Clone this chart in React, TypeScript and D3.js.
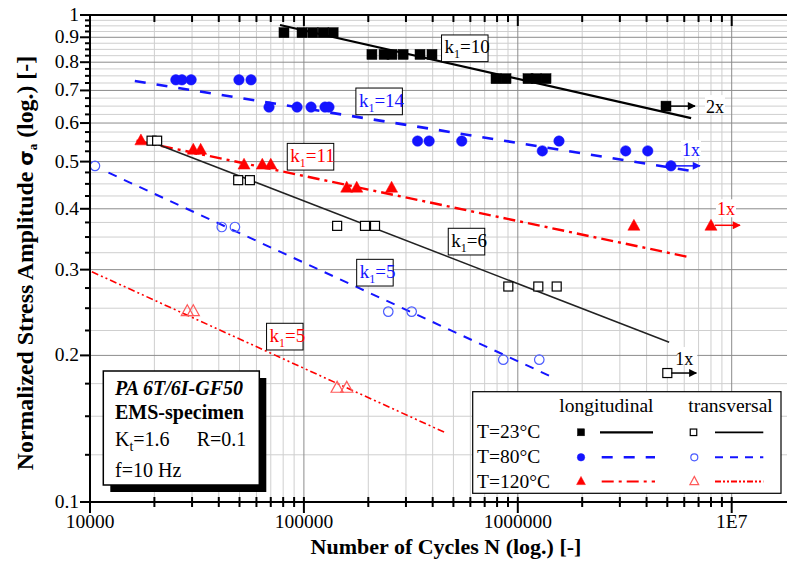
import React from "react";
import * as d3 from "d3";

// ---------- data ----------
const xTickValues = [1e4, 1e5, 1e6, 1e7];
const xTickLabels = ["10000", "100000", "1000000", "1E7"];
const yTickValues = [0.1, 0.2, 0.3, 0.4, 0.5, 0.6, 0.7, 0.8, 0.9, 1];
const yTickLabels = ["0.1", "0.2", "0.3", "0.4", "0.5", "0.6", "0.7", "0.8", "0.9", "1"];

// longitudinal, T=23°C (filled squares)
const long23N = [80700, 98000, 110000, 123000, 137000, 208000, 237000, 258000, 291000, 349000, 397000, 791000, 881000, 1116000, 1217000, 1355000, 4930000];
const long23S = [0.92, 0.92, 0.92, 0.92, 0.92, 0.83, 0.83, 0.83, 0.83, 0.83, 0.83, 0.74, 0.74, 0.74, 0.74, 0.74, 0.65];
// longitudinal, T=80°C (filled circles)
const long80N = [25200, 26900, 29700, 49700, 56600, 68700, 92900, 108000, 125500, 131000, 340000, 385000, 547000, 1302000, 1558000, 3195000, 4050000, 5200000];
const long80S = [0.736, 0.736, 0.736, 0.736, 0.736, 0.647, 0.647, 0.647, 0.647, 0.647, 0.551, 0.551, 0.551, 0.526, 0.551, 0.526, 0.526, 0.49];
// longitudinal, T=120°C (filled triangles)
const long120N = [17300, 30400, 32900, 52500, 63900, 70000, 158600, 176600, 257000, 3490000, 8000000];
const long120S = [0.554, 0.53, 0.53, 0.494, 0.494, 0.494, 0.443, 0.443, 0.443, 0.37, 0.37];
// transversal, T=23°C (open squares)
const trans23N = [19400, 20600, 49300, 55900, 143000, 193000, 215000, 903000, 1247000, 1520000, 5000000];
const trans23S = [0.552, 0.552, 0.458, 0.458, 0.369, 0.369, 0.369, 0.277, 0.277, 0.277, 0.184];
// transversal, T=80°C (open circles)
const trans80N = [10550, 41300, 47600, 248000, 319000, 855000, 1260000];
const trans80S = [0.49, 0.367, 0.367, 0.246, 0.246, 0.196, 0.196];
// transversal, T=120°C (open triangles)
const trans120N = [28500, 30400, 143000, 158600];
const trans120S = [0.247, 0.247, 0.172, 0.172];

// fitted S-N lines (start / end)
const long23LineN = [77300, 6460000];
const long23LineS = [0.954, 0.614];
const long80LineN = [16200, 6730000];
const long80LineS = [0.732, 0.477];
const long120LineN = [16500, 6380000];
const long120LineS = [0.552, 0.318];
const trans23LineN = [18700, 5100000];
const trans23LineS = [0.552, 0.2128];
const trans80LineN = [12200, 1490000];
const trans80LineS = [0.4745, 0.1795];
const trans120LineN = [10200, 465000];
const trans120LineS = [0.297, 0.1384];

// run-outs
const runoutN = [4930000, 5200000, 8000000, 5000000];
const runoutS = [0.65, 0.49, 0.37, 0.184];
const runoutLabels = ["2x", "1x", "1x", "1x"];

// slope labels
const slopeLabelText = ["10", "14", "11", "6", "5", "5"];
const slopeLabelN = [440000, 175000, 83600, 473000, 176500, 66900];
const slopeLabelS = [0.91, 0.708, 0.545, 0.3648, 0.315, 0.2328];

// ---------- layout ----------
const W = 787;
const H = 567;
const X0 = 90;
const XR = 787;
const Y0 = 502;
const YT = 15;

const BLUE = "#1414ff";
const RED = "#ff0000";
const LRED = "#ff5a5a";
const LBLUE = "#4b5cff";
const FONT = "'Liberation Serif', 'Times New Roman', serif";

const x = d3.scaleLog().domain([1e4, 1e7]).range([X0, 731.7]);
const y = d3.scaleLog().domain([0.1, 1]).range([Y0, YT]);

const xMinor: number[] = [];
for (let e = 4; e <= 7; e++) for (let m = 2; m <= 9; m++) xMinor.push(m * Math.pow(10, e));
const yMinor: number[] = [];
for (let i = 0; i <= 36; i++) {
  const v = +(0.1 + i * 0.025).toFixed(3);
  if (Math.abs(v * 10 - Math.round(v * 10)) > 1e-6) yMinor.push(v);
}

const zip = (a: number[], b: number[]) => a.map((v, i) => [v, b[i]] as [number, number]);
const line = d3.line<[number, number]>().x((d) => x(d[0])).y((d) => y(d[1]));

type Kind = "sq" | "circ" | "tri";
function Marker({ kind, cx, cy, size, fill, stroke, sw }: { kind: Kind; cx: number; cy: number; size: number; fill: string; stroke: string; sw: number }) {
  if (kind === "sq") return <rect x={cx - size / 2} y={cy - size / 2} width={size} height={size} fill={fill} stroke={stroke} strokeWidth={sw} />;
  if (kind === "circ") return <circle cx={cx} cy={cy} r={size / 2} fill={fill} stroke={stroke} strokeWidth={sw} />;
  const h = size * 0.9;
  const w = size * 1.1;
  return <path d={`M${cx},${cy - h / 2 - 1}L${cx + w / 2},${cy + h / 2}L${cx - w / 2},${cy + h / 2}Z`} fill={fill} stroke={stroke} strokeWidth={sw} strokeLinejoin="miter" />;
}

function Series({ N, S, kind, size, fill, stroke, sw }: { N: number[]; S: number[]; kind: Kind; size: number; fill: string; stroke: string; sw: number }) {
  return (
    <g>
      {zip(N, S).map((d, i) => (
        <Marker key={i} kind={kind} cx={x(d[0])} cy={y(d[1])} size={size} fill={fill} stroke={stroke} sw={sw} />
      ))}
    </g>
  );
}

function SlopeLabel({ n, s, text, color }: { n: number; s: number; text: string; color: string }) {
  const bx = x(n);
  const by = y(s);
  const w = text.length === 2 ? 46.5 : 36.5;
  return (
    <g>
      <rect x={bx} y={by} width={w} height={26.7} fill="white" stroke="black" strokeWidth={1} />
      <text x={bx + 3} y={by + 18.5} fill={color} fontSize={19} fontFamily={FONT}>
        k<tspan fontSize={12} dy={5}>1</tspan>
        <tspan dy={-5}>={text}</tspan>
      </text>
    </g>
  );
}

const runColors = ["black", BLUE, RED, "black"];

export default function App() {
  return (
    <div style={{ position: "absolute", left: 0, top: 0 }}>
      <svg width={W} height={H} style={{ display: "block", background: "white" }} fontFamily={FONT}>
        <defs>
          <clipPath id="plot">
            <rect x={X0} y={YT} width={XR - X0} height={Y0 - YT} />
          </clipPath>
          {runColors.map((c, i) => (
            <marker key={i} id={`arr${i}`} viewBox="0 0 10 10" refX={9} refY={5} markerWidth={12} markerHeight={8} markerUnits="userSpaceOnUse" orient="auto">
              <path d="M0,0L10,5L0,10Z" fill={c} />
            </marker>
          ))}
        </defs>

        {/* grid */}
        <g clipPath="url(#plot)">
          {xMinor.map((v, i) => (
            <line key={"xm" + i} x1={x(v)} x2={x(v)} y1={YT} y2={Y0} stroke="#cfcfcf" strokeWidth={1} />
          ))}
          {yMinor.map((v, i) => (
            <line key={"ym" + i} x1={X0} x2={XR} y1={y(v)} y2={y(v)} stroke="#cfcfcf" strokeWidth={1} />
          ))}
          {xTickValues.map((v, i) => (
            <line key={"xM" + i} x1={x(v)} x2={x(v)} y1={YT} y2={Y0} stroke="#8c8c8c" strokeWidth={1} />
          ))}
          {yTickValues.map((v, i) => (
            <line key={"yM" + i} x1={X0} x2={XR} y1={y(v)} y2={y(v)} stroke="#8c8c8c" strokeWidth={1} />
          ))}
        </g>

        {/* fit lines */}
        <g fill="none" clipPath="url(#plot)">
          <path d={line(zip(long23LineN, long23LineS)) || ""} stroke="black" strokeWidth={2.2} />
          <path d={line(zip(long80LineN, long80LineS)) || ""} stroke={BLUE} strokeWidth={2.6} strokeDasharray="11 11" />
          <path d={line(zip(long120LineN, long120LineS)) || ""} stroke={RED} strokeWidth={2.4} strokeDasharray="12 5 3 5" />
          <path d={line(zip(trans23LineN, trans23LineS)) || ""} stroke="#222" strokeWidth={1.5} />
          <path d={line(zip(trans80LineN, trans80LineS)) || ""} stroke={BLUE} strokeWidth={2} strokeDasharray="9 8" />
          <path d={line(zip(trans120LineN, trans120LineS)) || ""} stroke={RED} strokeWidth={1.6} strokeDasharray="7 3 2 3 2 3" />
        </g>

        {/* markers */}
        <Series N={long23N} S={long23S} kind="sq" size={10} fill="black" stroke="black" sw={0.5} />
        <Series N={long80N} S={long80S} kind="circ" size={10.5} fill={BLUE} stroke={BLUE} sw={0.5} />
        <Series N={long120N} S={long120S} kind="tri" size={11} fill={RED} stroke={RED} sw={0.5} />
        <Series N={trans23N} S={trans23S} kind="sq" size={9} fill="white" stroke="black" sw={1.2} />
        <Series N={trans80N} S={trans80S} kind="circ" size={9.5} fill="none" stroke={LBLUE} sw={1.2} />
        <Series N={trans120N} S={trans120S} kind="tri" size={11} fill="none" stroke={LRED} sw={1.2} />

        {/* run-out arrows */}
        {zip(runoutN, runoutS).map((d, i) => {
          const px = x(d[0]);
          const py = y(d[1]);
          return (
            <g key={"ro" + i}>
              <line x1={px + 4} y1={py} x2={px + 29} y2={py} stroke={runColors[i]} strokeWidth={1.5} markerEnd={`url(#arr${i})`} />
              <rect x={px + (i === 0 ? 39 : i === 2 ? 5 : 10)} y={py - (i === 0 ? 11 : 26)} width={20} height={18} fill="white" />
              <text x={px + (i === 0 ? 40 : i === 2 ? 6 : i === 3 ? 8 : 11)} y={py + (i === 0 ? 7 : i === 3 ? -8 : -10)} fontSize={18} fill={runColors[i]}>
                {runoutLabels[i]}
              </text>
            </g>
          );
        })}

        {/* slope labels */}
        {slopeLabelText.map((t, i) => (
          <SlopeLabel key={"sl" + i} n={slopeLabelN[i]} s={slopeLabelS[i]} text={t} color={["black", BLUE, RED, "black", BLUE, RED][i]} />
        ))}

        {/* axes */}
        <g stroke="black">
          <line x1={X0} x2={XR} y1={YT} y2={YT} strokeWidth={2} />
          <line x1={X0} x2={XR} y1={Y0} y2={Y0} strokeWidth={2} />
          <line x1={X0} x2={X0} y1={YT} y2={Y0 + 1} strokeWidth={2} />
          {xTickValues.map((v, i) => (
            <g key={"xt" + i}>
              <line x1={x(v)} x2={x(v)} y1={YT} y2={YT + 11} strokeWidth={2} />
              <line x1={x(v)} x2={x(v)} y1={Y0 - 5} y2={Y0 + 11} strokeWidth={2} />
            </g>
          ))}
          {xMinor.filter((v) => v < 1e7).map((v, i) => (
            <g key={"xmt" + i}>
              <line x1={x(v)} x2={x(v)} y1={YT} y2={YT + 7} strokeWidth={2} />
              <line x1={x(v)} x2={x(v)} y1={Y0 - 5} y2={Y0 + 5} strokeWidth={2} />
            </g>
          ))}
          {yTickValues.map((v, i) => (
            <line key={"yt" + i} x1={X0 - 10} x2={X0} y1={y(v)} y2={y(v)} strokeWidth={2} />
          ))}
          {yMinor.map((v, i) => (
            <line key={"ymt" + i} x1={X0 - 5} x2={X0} y1={y(v)} y2={y(v)} strokeWidth={2} />
          ))}
        </g>

        {/* tick labels */}
        {xTickValues.map((v, i) => (
          <text key={"xl" + i} x={x(v)} y={528} textAnchor="middle" fontSize={19.5}>
            {xTickLabels[i]}
          </text>
        ))}
        {yTickValues.map((v, i) => (
          <text key={"yl" + i} x={X0 - 11} y={y(v) + 6} textAnchor="end" fontSize={19.5}>
            {yTickLabels[i]}
          </text>
        ))}

        {/* axis titles */}
        <text x={446} y={554} textAnchor="middle" fontSize={22} fontWeight="bold">
          Number of Cycles N (log.) [-]
        </text>
        <text transform="translate(33,263) rotate(-90)" textAnchor="middle" fontSize={23.8} fontWeight="bold">
          Normalized Stress Amplitude{"  "}
          <tspan fontFamily="'DejaVu Sans', sans-serif" fontSize={20}>σ</tspan>
          <tspan fontSize={13} dy={4}>a</tspan>
          <tspan dy={-4}> (log.) [-]</tspan>
        </text>

        {/* info box */}
        <rect x={110.3} y={378} width={156} height={114} fill="black" />
        <rect x={103.3} y={371} width={156} height={114} fill="white" stroke="black" strokeWidth={1.5} />
        <text x={115} y={395} fontSize={20} fontWeight="bold" fontStyle="italic">PA 6T/6I-GF50</text>
        <text x={115} y={419} fontSize={20} fontWeight="bold">EMS-specimen</text>
        <text x={115} y={446} fontSize={20}>
          K<tspan fontSize={14} dy={5}>t</tspan>
          <tspan dy={-5}>=1.6</tspan>
        </text>
        <text x={196.7} y={446} fontSize={20}>R=0.1</text>
        <text x={115} y={477} fontSize={20}>f=10 Hz</text>

        {/* legend */}
        <rect x={472.7} y={391.7} width={308.3} height={101.6} fill="white" stroke="black" strokeWidth={1.2} />
        <text x={559.3} y={412} fontSize={19.5}>longitudinal</text>
        <text x={688.3} y={412} fontSize={19.5}>transversal</text>
        <text x={477} y={438} fontSize={19.5}>T=23°C</text>
        <text x={477} y={463} fontSize={19.5}>T=80°C</text>
        <text x={477} y={488} fontSize={19.5}>T=120°C</text>
        <Marker kind="sq" cx={581} cy={432.3} size={7} fill="black" stroke="black" sw={0.5} />
        <line x1={600} x2={653} y1={432.3} y2={432.3} stroke="black" strokeWidth={2.2} />
        <Marker kind="circ" cx={581} cy={457.3} size={7.5} fill={BLUE} stroke={BLUE} sw={0.5} />
        <line x1={601.7} x2={655} y1={457.3} y2={457.3} stroke={BLUE} strokeWidth={2.4} strokeDasharray="11 11" />
        <Marker kind="tri" cx={581} cy={481} size={8} fill={RED} stroke={RED} sw={0.5} />
        <line x1={601.7} x2={655} y1={481.5} y2={481.5} stroke={RED} strokeWidth={2.2} strokeDasharray="12 5 3 5" />
        <Marker kind="sq" cx={693.5} cy={432.3} size={6.5} fill="white" stroke="black" sw={1.2} />
        <line x1={715} x2={763.3} y1={432.3} y2={432.3} stroke="black" strokeWidth={1.8} />
        <Marker kind="circ" cx={694.3} cy={457.3} size={7} fill="none" stroke={LBLUE} sw={1.2} />
        <line x1={715} x2={763.3} y1={457.3} y2={457.3} stroke={BLUE} strokeWidth={2} strokeDasharray="8 7" />
        <Marker kind="tri" cx={694.3} cy={481} size={8} fill="none" stroke={LRED} sw={1.2} />
        <line x1={715} x2={763.3} y1={481.5} y2={481.5} stroke={RED} strokeWidth={1.8} strokeDasharray="6 2 2 2 2 2" />
      </svg>
    </div>
  );
}
